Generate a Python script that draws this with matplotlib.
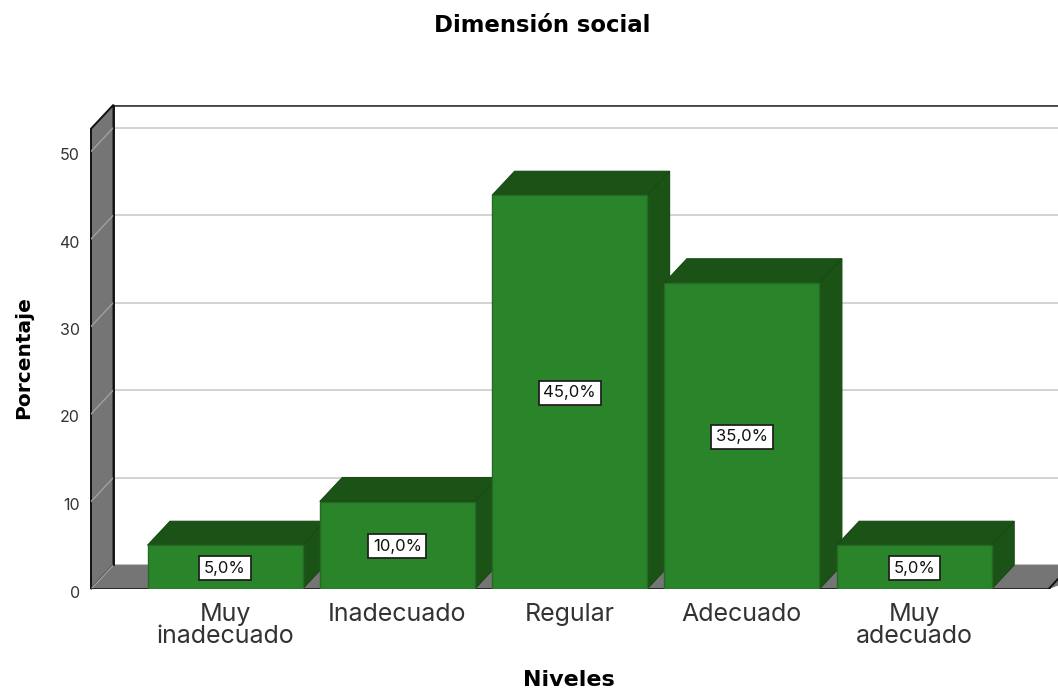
import matplotlib
matplotlib.use('agg')
import matplotlib.pyplot as plt
from matplotlib.patches import Polygon
from matplotlib.transforms import ScaledTranslation

plt.rcParams['font.family'] = ['Inter', 'Liberation Sans', 'DejaVu Sans']

categories = ['Muy\ninadecuado', 'Inadecuado', 'Regular', 'Adecuado', 'Muy\nadecuado']
values = [5.0, 10.0, 45.0, 35.0, 5.0]
bar_labels = ['5,0%', '10,0%', '45,0%', '35,0%', '5,0%']
yticks = [0, 10, 20, 30, 40, 50]

W, H = 1058, 691
fig = plt.figure(figsize=(W / 100, H / 100), dpi=100)

# axes = front plane of the 3d box, in pixels
left, right, bottom, top = 91, 1058, 589, 105
ax = fig.add_axes([left / W, 1 - bottom / H, (right - left) / W, (bottom - top) / H])

px_x = 172.3  # pixels per category
px_y = 8.75   # pixels per percent
x0 = (left - 225) / px_x
ax.set_xlim(x0, x0 + (right - left) / px_x)
ax.set_ylim(0, (bottom - top) / px_y)

dx = 22.5 / px_x  # depth offset
dy = 24 / px_y
wall_top = 52.6
x_end = 4.78

gray = '#757575'
green = '#2a852a'
dark = '#1b5317'

# walls and floor
ax.add_patch(Polygon([(x0, 0), (x0 + dx, dy), (x0 + dx, wall_top + dy), (x0, wall_top)],
                     fc=gray, ec='#111111', lw=1.4, zorder=1, clip_on=False))
ax.add_patch(Polygon([(x0, 0), (x0 + dx, dy), (x_end + 3 * dx, dy), (x_end, 0)],
                     fc=gray, ec='none', zorder=1))
for t in yticks:
    ax.plot([x0 + dx, 6], [t + dy, t + dy], color='#cfcfcf', lw=1.3, zorder=0.5)
    ax.plot([x0, x0 + dx], [t, t + dy], color='#a0a0a0', lw=1.0, zorder=1.5)
ax.plot([x0 + dx, 6], [wall_top + dy] * 2, color='#444444', lw=2, zorder=1)
ax.plot([x0 + dx, x_end + 3 * dx], [dy, dy], color='#777777', lw=1, zorder=1.2)
ax.plot([x0, x_end], [0, 0], color='#111111', lw=1.8, zorder=1.6)
ax.plot([x_end, x_end + 3 * dx], [0, 3 * dy], color='#111111', lw=1.4, zorder=1.6)
ax.plot([x0 + dx, x0 + dx], [dy, wall_top + dy], color='#111111', lw=1.3, zorder=1.6)

# bars, each one covers the side of the one before
width = 155 / px_x
xs = list(range(len(values)))
bars = ax.bar(xs, values, width=width, color=green, edgecolor='#256b25', lw=1)
for x, v, b in zip(xs, values, bars):
    xl, xr = x - width / 2, x + width / 2
    ax.add_patch(Polygon([(xl, v), (xl + dx, v + dy), (xr + dx, v + dy), (xr, v)],
                         fc=dark, ec='#174a14', lw=0.8, zorder=3 + x))
    ax.add_patch(Polygon([(xr, 0), (xr + dx, dy), (xr + dx, v + dy), (xr, v)],
                         fc=dark, ec='#174a14', lw=0.8, zorder=3 + x))
    b.set_zorder(3.5 + x)

for x, v, s in zip(xs, values, bar_labels):
    ax.text(x, v / 2 - 0.1, s, ha='center', va='center', fontsize=12, color='#111111', zorder=12,
            bbox=dict(boxstyle='square,pad=0.28', fc='white', ec='#222222', lw=1.3))

ax.set_xticks(xs)
ax.set_xticklabels(categories, fontsize=18, linespacing=0.95, color='#333333')
ax.tick_params(axis='x', length=0, pad=10)
ax.set_yticks(yticks)
ax.tick_params(axis='y', length=0, labelsize=11.5, pad=8, labelcolor='#333333')
shift = ScaledTranslation(0, -2.5 / 72 * 0.72, fig.dpi_scale_trans)
for lab in ax.get_yticklabels():
    lab.set_transform(lab.get_transform() + shift)
for s in ax.spines.values():
    s.set_visible(False)

bold = ['DejaVu Sans']
fig.text(542.5 / W, 1 - 26 / H, 'Dimensión social', ha='center', va='center',
         fontsize=16.4, fontweight='bold', family=bold)
fig.text(569 / W, 1 - 680.5 / H, 'Niveles', ha='center', va='center',
         fontsize=16, fontweight='bold', family=bold)
fig.text(24 / W, 1 - 358 / H, 'Porcentaje', ha='center', va='center', rotation=90,
         fontsize=14.5, fontweight='bold', family=bold)

fig.savefig('out.png', dpi=100)
